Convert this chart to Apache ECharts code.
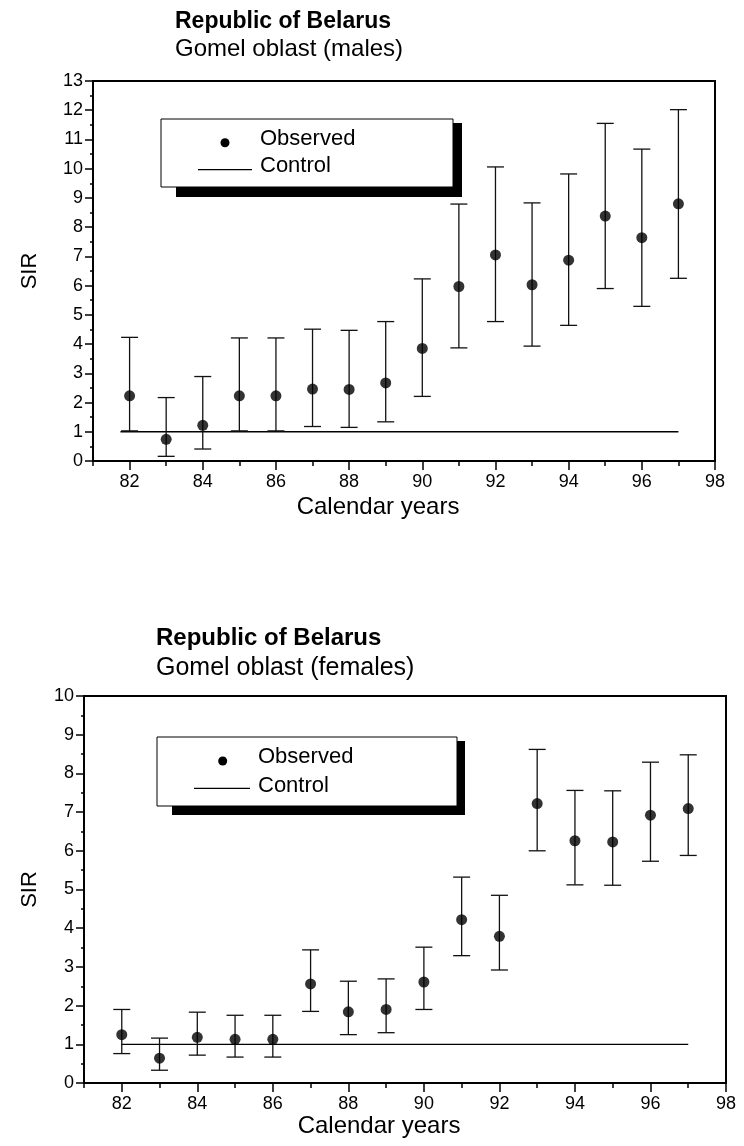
<!DOCTYPE html>
<html>
<head>
<meta charset="utf-8">
<script src="https://cdn.jsdelivr.net/npm/echarts@6/dist/echarts.min.js"></script>
<style>
  html, body { margin: 0; padding: 0; background: #fff; }
  #chart { width: 744px; height: 1146px; }
</style>
</head>
<body>
<div id="chart"></div>
<script>
// Standardized incidence ratios by calendar year, Gomel oblast
const years = [82, 83, 84, 85, 86, 87, 88, 89, 90, 91, 92, 93, 94, 95, 96, 97];

const maleSIR   = [2.23, 0.74, 1.22, 2.23, 2.23, 2.46, 2.45, 2.67, 3.85, 5.97, 7.05, 6.03, 6.87, 8.38, 7.64, 8.80];
const maleLower = [1.03, 0.16, 0.41, 1.03, 1.03, 1.18, 1.15, 1.34, 2.21, 3.87, 4.77, 3.93, 4.64, 5.90, 5.29, 6.25];
const maleUpper = [4.23, 2.17, 2.89, 4.21, 4.21, 4.51, 4.47, 4.77, 6.23, 8.79, 10.06, 8.83, 9.82, 11.55, 10.67, 12.02];

const femaleSIR   = [1.25, 0.64, 1.18, 1.13, 1.13, 2.56, 1.84, 1.90, 2.61, 4.22, 3.79, 7.22, 6.26, 6.23, 6.92, 7.09];
const femaleLower = [0.76, 0.33, 0.72, 0.67, 0.67, 1.85, 1.25, 1.30, 1.90, 3.29, 2.92, 6.00, 5.12, 5.11, 5.73, 5.88];
const femaleUpper = [1.90, 1.16, 1.83, 1.75, 1.75, 3.44, 2.63, 2.69, 3.51, 5.32, 4.85, 8.62, 7.56, 7.55, 8.29, 8.48];

// Control level (SIR = 1) and the year span its line covers
const controlLevel = 1;
const maleControlSpan = [81.75, 97];
const femaleControlSpan = [82, 97];

// Axis ranges and tick positions
const yearMin = 81, yearMax = 98;
const labelledYears = [82, 84, 86, 88, 90, 92, 94, 96, 98];
const oddYears = [81, 83, 85, 87, 89, 91, 93, 95, 97];
const maleSIRMax = 13;
const femaleSIRMax = 10;

const SANS = "'Liberation Sans', Arial, Helvetica, sans-serif";
const NARROW = "'Liberation Sans Narrow', 'Arial Narrow', " + SANS;
const INK = '#000';

const chart = echarts.init(document.getElementById('chart'), null, { renderer: 'canvas' });

function xAxesFor(gridIndex, nameGap, namePad) {
  return [
    {
      type: 'value', gridIndex, position: 'bottom',
      min: yearMin, max: yearMax, interval: 1,
      axisLine: { show: true, onZero: false, lineStyle: { color: INK, width: 2 } },
      axisTick: { show: true, customValues: labelledYears, length: 9, lineStyle: { color: INK, width: 1.5 } },
      axisLabel: { customValues: labelledYears, margin: 12, color: INK, fontSize: 18, fontFamily: NARROW },
      splitLine: { show: false },
      name: 'Calendar years', nameLocation: 'middle', nameGap,
      nameTextStyle: { color: INK, fontSize: 24, fontFamily: SANS, padding: namePad }
    },
    {
      type: 'value', gridIndex, position: 'bottom',
      min: yearMin, max: yearMax, interval: 1,
      axisLine: { show: false, onZero: false },
      axisTick: { show: true, customValues: oddYears, length: 5, lineStyle: { color: INK, width: 1.5 } },
      axisLabel: { show: false },
      splitLine: { show: false }
    }
  ];
}

function yAxisFor(gridIndex, max, nameGap, namePad) {
  return {
    type: 'value', gridIndex, min: 0, max, interval: 1,
    axisLine: { show: true, onZero: false, lineStyle: { color: INK, width: 2 } },
    axisTick: { show: true, length: 8, lineStyle: { color: INK, width: 1.5 } },
    minorTick: { show: true, splitNumber: 2, length: 3, lineStyle: { color: INK, width: 1.5 } },
    axisLabel: { margin: 10, color: INK, fontSize: 18, fontFamily: NARROW },
    splitLine: { show: false },
    name: 'SIR', nameLocation: 'middle', nameRotate: 90, nameGap,
    nameTextStyle: { color: INK, fontSize: 22, fontFamily: SANS, padding: namePad }
  };
}

function errorBarItem(params, api) {
  const x = api.value(0);
  const lo = api.coord([x, api.value(1)]);
  const hi = api.coord([x, api.value(2)]);
  const half = 8.5;
  const style = { stroke: '#111', lineWidth: 1.3 };
  return {
    type: 'group',
    children: [
      { type: 'line', shape: { x1: lo[0], y1: lo[1], x2: hi[0], y2: hi[1] }, style },
      { type: 'line', shape: { x1: hi[0] - half, y1: hi[1], x2: hi[0] + half, y2: hi[1] }, style },
      { type: 'line', shape: { x1: lo[0] - half, y1: lo[1], x2: lo[0] + half, y2: lo[1] }, style }
    ]
  };
}

function panelSeries(axisX, axisY, sir, lower, upper, span) {
  return [
    {
      type: 'line', xAxisIndex: axisX, yAxisIndex: axisY, z: 1,
      data: [[span[0], controlLevel], [span[1], controlLevel]],
      showSymbol: false, silent: true,
      lineStyle: { color: INK, width: 1.3 }
    },
    {
      type: 'custom', xAxisIndex: axisX, yAxisIndex: axisY, z: 2,
      data: years.map((y, i) => [y, lower[i], upper[i]]),
      encode: { x: 0, y: [1, 2] },
      renderItem: errorBarItem, silent: true
    },
    {
      type: 'scatter', xAxisIndex: axisX, yAxisIndex: axisY, z: 3,
      data: years.map((y, i) => [y, sir[i]]),
      symbol: 'circle', symbolSize: 11,
      itemStyle: { color: INK }, silent: true
    }
  ];
}

function legendBox(box, shadow, dot, line, obsPos, ctrlPos) {
  return [
    { type: 'rect', shape: shadow, style: { fill: INK }, z: 10 },
    { type: 'rect', shape: box, style: { fill: '#fff', stroke: INK, lineWidth: 1 }, z: 11 },
    { type: 'circle', shape: { cx: dot[0], cy: dot[1], r: 4.5 }, style: { fill: INK }, z: 12 },
    { type: 'line', shape: line, style: { stroke: INK, lineWidth: 1.2 }, z: 12 },
    { type: 'text', x: obsPos[0], y: obsPos[1], z: 12,
      style: { text: 'Observed', fill: INK, font: '22px ' + SANS, verticalAlign: 'middle' } },
    { type: 'text', x: ctrlPos[0], y: ctrlPos[1], z: 12,
      style: { text: 'Control', fill: INK, font: '22px ' + SANS, verticalAlign: 'middle' } }
  ];
}

function heading(x, y, text, font) {
  return { type: 'text', x, y, style: { text, fill: INK, font, verticalAlign: 'middle' } };
}

const option = {
  animation: false,
  backgroundColor: '#fff',
  grid: [
    { left: 93, top: 81, width: 622, height: 380, show: true, borderColor: INK, borderWidth: 2, backgroundColor: 'transparent' },
    { left: 84, top: 696, width: 642, height: 387, show: true, borderColor: INK, borderWidth: 2, backgroundColor: 'transparent' }
  ],
  xAxis: [
    ...xAxesFor(0, 34, [0, 52, 0, 0]),
    ...xAxesFor(1, 31, [0, 52, 0, 0])
  ],
  yAxis: [
    yAxisFor(0, maleSIRMax, 52, 0),
    yAxisFor(1, femaleSIRMax, 43, [0, 0, 0, 0])
  ],
  series: [
    ...panelSeries(0, 0, maleSIR, maleLower, maleUpper, maleControlSpan),
    ...panelSeries(2, 1, femaleSIR, femaleLower, femaleUpper, femaleControlSpan)
  ],
  graphic: [
    heading(175, 21.5, 'Republic of Belarus', 'bold 23px ' + SANS),
    heading(175, 49.5, 'Gomel oblast (males)', '24px ' + SANS),
    heading(156, 638, 'Republic of Belarus', 'bold 24px ' + SANS),
    heading(156, 668, 'Gomel oblast (females)', '25px ' + SANS),
    ...legendBox(
      { x: 161, y: 119, width: 292, height: 68 },
      { x: 176, y: 123, width: 286, height: 74 },
      [225, 142.7],
      { x1: 198, y1: 169.7, x2: 252, y2: 169.7 },
      [260, 138.5], [260, 166]
    ),
    ...legendBox(
      { x: 157, y: 737, width: 300, height: 69 },
      { x: 172, y: 741, width: 293, height: 74 },
      [222.7, 761],
      { x1: 194, y1: 788.3, x2: 250, y2: 788.3 },
      [258, 757], [258, 786]
    )
  ]
};

chart.setOption(option);
</script>
</body>
</html>
